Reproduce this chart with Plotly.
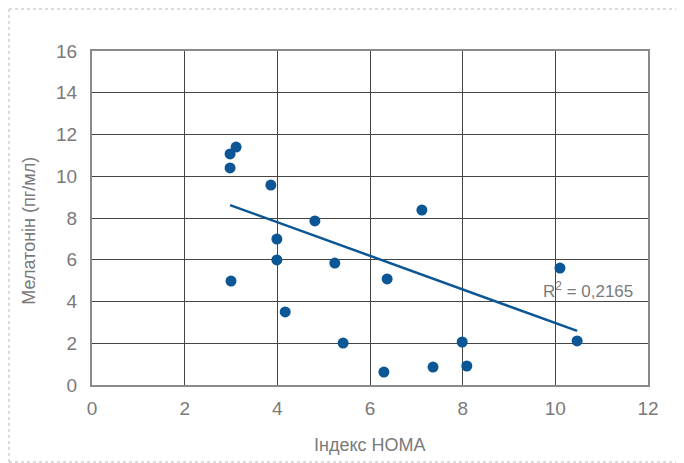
import plotly.graph_objects as go

# Data
homa = [2.98, 3.11, 2.98, 3.00, 3.86, 3.99, 3.99, 4.17, 4.81, 5.24,
        5.42, 6.30, 6.37, 7.12, 7.36, 7.99, 8.09, 10.10, 10.47]
melatonin = [11.07, 11.40, 10.40, 4.98, 9.58, 6.99, 5.99, 3.50, 7.86, 5.84,
             2.01, 0.62, 5.08, 8.38, 0.86, 2.06, 0.91, 5.60, 2.11]
trend_x = [2.98, 10.47]
trend_y = [8.62, 2.59]
r2_label = "R<sup>2</sup> = 0,2165"
x_title = "Індекс HOMA"
y_title = "Мелатонін (пг/мл)"
x_ticks = [0, 2, 4, 6, 8, 10, 12]
y_ticks = [0, 2, 4, 6, 8, 10, 12, 14, 16]

BLUE = "#0b5694"
GRAY = "#7a7a7a"
FONT = "Liberation Sans, Arial, sans-serif"

fig = go.Figure()
fig.add_trace(go.Scatter(x=homa, y=melatonin, mode="markers",
                         marker=dict(color=BLUE, size=11), showlegend=False))
fig.add_trace(go.Scatter(x=trend_x, y=trend_y, mode="lines",
                         line=dict(color=BLUE, width=2.5), showlegend=False))

fig.add_annotation(x=10.71, y=4.55, xref="x", yref="y", text=r2_label,
                   showarrow=False, xanchor="center", yanchor="middle",
                   font=dict(family=FONT, size=17, color=GRAY))

# axis titles
fig.add_annotation(x=0.5, y=-0.18, xref="paper", yref="paper", text=x_title,
                   showarrow=False, xanchor="center", yanchor="middle",
                   font=dict(family=FONT, size=18, color=GRAY))
fig.add_annotation(x=-0.114, y=0.461, xref="paper", yref="paper", text=y_title,
                   showarrow=False, xanchor="center", yanchor="middle", textangle=-90,
                   font=dict(family=FONT, size=18, color=GRAY))

# dotted outer frame: left, top and bottom edges only
border = dict(color="#b8b8b8", width=1, dash="dot")
bx0, bx1, by0, by1 = -0.1493, 1.3, -0.2305, 1.1257
fig.add_shape(type="line", xref="paper", yref="paper", x0=bx0, x1=bx0, y0=by0, y1=by1,
              line=border, layer="below")
fig.add_shape(type="line", xref="paper", yref="paper", x0=bx0, x1=bx1, y0=by1, y1=by1,
              line=border, layer="below")
fig.add_shape(type="line", xref="paper", yref="paper", x0=bx0, x1=bx1, y0=by0, y1=by0,
              line=border, layer="below")

axis_common = dict(showgrid=True, gridcolor="#444444", gridwidth=1,
                   showline=True, linecolor="#8a8a8a", linewidth=2, mirror=True,
                   zeroline=False, ticks="", automargin=False,
                   tickfont=dict(family=FONT, size=19, color=GRAY))

fig.update_xaxes(range=[0, 12], tickvals=x_ticks, ticklabelstandoff=5, **axis_common)
fig.update_yaxes(range=[0, 16], tickvals=y_ticks, ticklabelstandoff=9, **axis_common)

# page body adds an 8px offset, so margins are reduced by 8 on left/top
fig.update_layout(width=684, height=463, paper_bgcolor="white", plot_bgcolor="white",
                  margin=dict(l=84, r=44, t=43, b=86), showlegend=False)

fig.write_html("out.html")
